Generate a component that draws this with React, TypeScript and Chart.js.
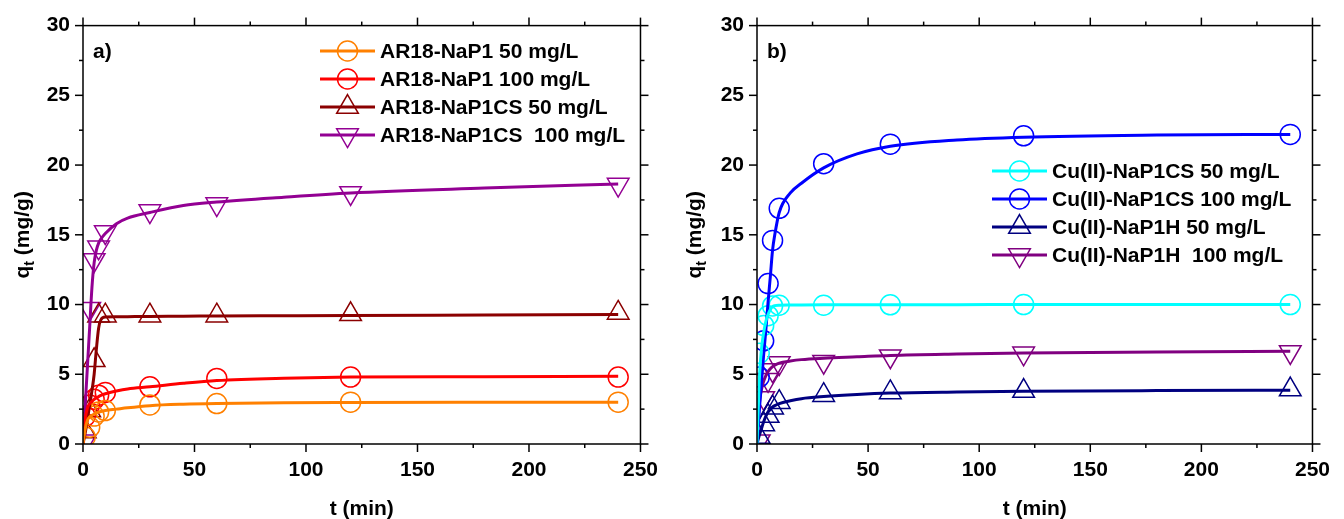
import React, { useEffect, useRef } from "react";
import { Chart, registerables } from "chart.js";

Chart.register(...registerables);

// ---------- data ----------
const sampleTimes = [1, 3, 5, 7, 10, 30, 60, 120, 240];
const fitTimes = [0, 1, 2, 3, 4, 5, 6, 7, 8, 10, 15, 20, 30, 45, 60, 90, 120, 180, 240];

const xTickValues = [0, 50, 100, 150, 200, 250];
const yTickValues = [0, 5, 10, 15, 20, 25, 30];

// panel a) markers
const ar18NaP1_50 = [0.5, 1.2, 2.0, 2.3, 2.4, 2.8, 2.9, 3.0, 3.0];
const ar18NaP1_100 = [2.0, 2.8, 3.2, 3.5, 3.7, 4.1, 4.7, 4.8, 4.8];
const ar18NaP1CS_50 = [0.9, 2.4, 6.0, 9.2, 9.2, 9.2, 9.2, 9.3, 9.4];
const ar18NaP1CS_100 = [0.2, 9.7, 13.2, 14.1, 15.2, 16.7, 17.2, 18.0, 18.6];

// panel a) fitted curves
const ar18NaP1_50Fit = [0, 1.1, 1.7, 1.95, 2.05, 2.15, 2.22, 2.28, 2.33, 2.4, 2.5, 2.6, 2.75, 2.85, 2.9, 2.95, 2.97, 2.99, 3.0];
const ar18NaP1_100Fit = [0, 1.8, 2.6, 2.9, 3.05, 3.2, 3.3, 3.4, 3.48, 3.6, 3.8, 3.95, 4.1, 4.35, 4.55, 4.72, 4.8, 4.83, 4.85];
const ar18NaP1CS_50Fit = [0, 0.8, 1.8, 2.8, 3.8, 5.0, 6.8, 8.3, 8.9, 9.1, 9.12, 9.13, 9.15, 9.16, 9.18, 9.2, 9.22, 9.25, 9.28];
const ar18NaP1CS_100Fit = [0, 2.8, 5.6, 8.4, 11.2, 13.0, 13.9, 14.4, 14.7, 15.1, 15.8, 16.2, 16.6, 17.1, 17.35, 17.7, 18.0, 18.35, 18.65];

// panel b) markers
const cuNaP1CS_50 = [6.5, 8.5, 9.2, 9.9, 9.95, 9.95, 9.98, 10.0, 10.0];
const cuNaP1CS_100 = [4.8, 7.4, 11.5, 14.6, 16.9, 20.1, 21.5, 22.1, 22.2];
const cuNaP1H_50 = [0.5, 1.4, 2.0, 2.6, 3.0, 3.5, 3.7, 3.8, 3.9];
const cuNaP1H_100 = [0.2, 3.3, 4.6, 5.3, 5.8, 5.9, 6.3, 6.5, 6.6];

// panel b) fitted curves
const cuNaP1CS_50Fit = [0, 4.5, 6.8, 8.0, 8.8, 9.3, 9.65, 9.85, 9.92, 9.95, 9.96, 9.97, 9.98, 9.98, 9.99, 9.99, 10.0, 10.0, 10.0];
const cuNaP1CS_100Fit = [0, 2.3, 4.4, 6.4, 8.2, 10.2, 12.0, 13.9, 15.0, 16.6, 18.0, 18.7, 19.8, 20.8, 21.35, 21.8, 22.0, 22.15, 22.2];
const cuNaP1H_50Fit = [0, 0.6, 1.1, 1.6, 2.0, 2.3, 2.5, 2.65, 2.75, 2.9, 3.1, 3.25, 3.4, 3.55, 3.65, 3.73, 3.78, 3.83, 3.86];
const cuNaP1H_100Fit = [0, 2.8, 3.9, 4.5, 4.9, 5.2, 5.4, 5.55, 5.65, 5.8, 5.95, 6.05, 6.15, 6.25, 6.35, 6.45, 6.52, 6.6, 6.65];

const labelsA = ["AR18-NaP1 50 mg/L", "AR18-NaP1 100 mg/L", "AR18-NaP1CS 50 mg/L", "AR18-NaP1CS  100 mg/L"];
const labelsB = ["Cu(II)-NaP1CS 50 mg/L", "Cu(II)-NaP1CS 100 mg/L", "Cu(II)-NaP1H 50 mg/L", "Cu(II)-NaP1H  100 mg/L"];

type Shape = "circle" | "up" | "down";
interface Series {
  label: string;
  color: string;
  shape: Shape;
  marks: number[];
  fit: number[];
}

const seriesA: Series[] = [
  { label: labelsA[0], color: "#FF8000", shape: "circle", marks: ar18NaP1_50, fit: ar18NaP1_50Fit },
  { label: labelsA[1], color: "#FF0000", shape: "circle", marks: ar18NaP1_100, fit: ar18NaP1_100Fit },
  { label: labelsA[2], color: "#8B0000", shape: "up", marks: ar18NaP1CS_50, fit: ar18NaP1CS_50Fit },
  { label: labelsA[3], color: "#930093", shape: "down", marks: ar18NaP1CS_100, fit: ar18NaP1CS_100Fit },
];
const seriesB: Series[] = [
  { label: labelsB[0], color: "#00FFFF", shape: "circle", marks: cuNaP1CS_50, fit: cuNaP1CS_50Fit },
  { label: labelsB[1], color: "#0000FF", shape: "circle", marks: cuNaP1CS_100, fit: cuNaP1CS_100Fit },
  { label: labelsB[2], color: "#000080", shape: "up", marks: cuNaP1H_50, fit: cuNaP1H_50Fit },
  { label: labelsB[3], color: "#800080", shape: "down", marks: cuNaP1H_100, fit: cuNaP1H_100Fit },
];

// ---------- style ----------
const FONT = "'Liberation Sans', Arial, Helvetica, sans-serif";
const FS = 21;
const W = 672;
const H = 519;
const CIRCLE_R = 10;
const TRI_R = 12.5;

function drawMarker(ctx: CanvasRenderingContext2D, shape: Shape, x: number, y: number, color: string) {
  ctx.save();
  ctx.strokeStyle = color;
  ctx.lineWidth = 1.5;
  ctx.beginPath();
  if (shape === "circle") {
    ctx.arc(x, y, CIRCLE_R, 0, Math.PI * 2);
  } else {
    const s = shape === "up" ? -1 : 1;
    for (let i = 0; i < 3; i++) {
      const ang = (i * 2 * Math.PI) / 3;
      const px = x + Math.sin(ang) * TRI_R;
      const py = y + s * Math.cos(ang) * TRI_R;
      if (i === 0) ctx.moveTo(px, py);
      else ctx.lineTo(px, py);
    }
    ctx.closePath();
  }
  ctx.stroke();
  ctx.restore();
}

const decorPlugin = {
  id: "decor",
  afterDraw(chart: any, _args: any, opts: any) {
    const { ctx, chartArea: a, scales } = chart;
    const xs = scales.x;
    const ys = scales.y;
    ctx.save();
    ctx.strokeStyle = "#000";
    ctx.lineWidth = 1.5;
    ctx.strokeRect(a.left, a.top, a.right - a.left, a.bottom - a.top);
    const seg = (x1: number, y1: number, x2: number, y2: number) => {
      ctx.beginPath();
      ctx.moveTo(x1, y1);
      ctx.lineTo(x2, y2);
      ctx.stroke();
    };
    for (let v = xs.min; v <= xs.max + 1e-6; v += 25) {
      const px = xs.getPixelForValue(v);
      const len = v % 50 === 0 ? 8 : 4;
      seg(px, a.bottom, px, a.bottom + len);
      seg(px, a.top, px, a.top - len);
    }
    for (let v = ys.min; v <= ys.max + 1e-6; v += 2.5) {
      const py = ys.getPixelForValue(v);
      const len = v % 5 === 0 ? 8 : 4;
      seg(a.left, py, a.left - len, py);
      seg(a.right, py, a.right + len, py);
    }

    // legend
    const { legendX, legendY, legendStep, series, panel } = opts;
    series.forEach((s: Series, i: number) => {
      const y = legendY + i * legendStep;
      ctx.strokeStyle = s.color;
      ctx.lineWidth = 3;
      seg(legendX, y, legendX + 55, y);
      drawMarker(ctx, s.shape, legendX + 27.5, y, s.color);
      ctx.fillStyle = "#000";
      ctx.font = `bold ${FS}px ${FONT}`;
      ctx.textAlign = "left";
      ctx.textBaseline = "middle";
      ctx.fillText(s.label, legendX + 60, y + 1);
    });

    // panel label
    ctx.fillStyle = "#000";
    ctx.font = `bold ${FS}px ${FONT}`;
    ctx.textAlign = "left";
    ctx.textBaseline = "middle";
    ctx.fillText(panel, a.left + 10, 52);

    // x title
    ctx.textAlign = "center";
    ctx.fillText("t (min)", (a.left + a.right) / 2, 509);

    // y title with subscript
    const cy = (a.top + a.bottom) / 2;
    ctx.translate(22, cy);
    ctx.rotate(-Math.PI / 2);
    const big = `bold ${FS}px ${FONT}`;
    const small = `bold ${Math.round(FS * 0.65)}px ${FONT}`;
    ctx.font = big;
    const wq = ctx.measureText("q").width;
    const wr = ctx.measureText(" (mg/g)").width;
    ctx.font = small;
    const wt = ctx.measureText("t").width;
    const total = wq + wt + wr;
    let x0 = -total / 2;
    ctx.textAlign = "left";
    ctx.textBaseline = "alphabetic";
    ctx.font = big;
    ctx.fillText("q", x0, 7);
    x0 += wq;
    ctx.font = small;
    ctx.fillText("t", x0, 12);
    x0 += wt;
    ctx.font = big;
    ctx.fillText(" (mg/g)", x0, 7);
    ctx.restore();
  },
};

interface PanelProps {
  series: Series[];
  panel: string;
  yAxisWidth: number;
  padRight: number;
  legendX: number;
  legendY: number;
}

function Panel({ series, panel, yAxisWidth, padRight, legendX, legendY }: PanelProps) {
  const ref = useRef<HTMLCanvasElement>(null);
  useEffect(() => {
    if (!ref.current) return;
    const datasets: any[] = [];
    series.forEach((s) => {
      datasets.push({
        label: s.label + " fit",
        data: fitTimes.map((t, i) => ({ x: t, y: s.fit[i] })),
        borderColor: s.color,
        borderWidth: 3,
        pointRadius: 0,
        cubicInterpolationMode: "monotone",
        fill: false,
      });
    });
    series.forEach((s) => {
      datasets.push({
        label: s.label,
        data: sampleTimes.map((t, i) => ({ x: t, y: s.marks[i] })),
        showLine: false,
        borderColor: s.color,
        backgroundColor: "rgba(0,0,0,0)",
        pointBackgroundColor: "rgba(0,0,0,0)",
        pointBorderColor: s.color,
        pointBorderWidth: 1.5,
        pointStyle: s.shape === "circle" ? "circle" : "triangle",
        pointRotation: s.shape === "down" ? 180 : 0,
        pointRadius: s.shape === "circle" ? CIRCLE_R : TRI_R,
      });
    });
    const tickFont = { family: FONT, size: FS, weight: "bold" as const };
    const chart = new Chart(ref.current, {
      type: "line",
      data: { datasets },
      plugins: [decorPlugin],
      options: {
        animation: false,
        responsive: false,
        layout: { padding: { left: 0, right: padRight, top: 24, bottom: 0 } },
        plugins: {
          legend: { display: false },
          tooltip: { enabled: false },
          decor: { legendX, legendY, legendStep: 28, series, panel },
        } as any,
        scales: {
          x: {
            type: "linear",
            min: 0,
            max: 250,
            afterBuildTicks: (s: any) => {
              s.ticks = xTickValues.map((v) => ({ value: v }));
            },
            afterFit: (s: any) => {
              s.height = 75;
            },
            grid: { display: false, drawTicks: false },
            border: { display: false },
            ticks: { font: tickFont, color: "#000", padding: 14, maxRotation: 0 },
          },
          y: {
            type: "linear",
            min: 0,
            max: 30,
            afterBuildTicks: (s: any) => {
              s.ticks = yTickValues.map((v) => ({ value: v }));
            },
            afterFit: (s: any) => {
              s.width = yAxisWidth;
            },
            grid: { display: false, drawTicks: false },
            border: { display: false },
            ticks: { font: tickFont, color: "#000", padding: 13 },
          },
        },
      },
    });
    return () => chart.destroy();
  }, []);
  return <canvas ref={ref} width={W} height={H} style={{ width: W, height: H, display: "block" }} />;
}

export default function App() {
  return (
    <div style={{ position: "absolute", left: 0, top: 0, width: 1344, height: 519, display: "flex", background: "#fff" }}>
      <Panel series={seriesA} panel="a)" yAxisWidth={83} padRight={20} legendX={320} legendY={51} />
      <Panel series={seriesB} panel="b)" yAxisWidth={85} padRight={19} legendX={320} legendY={171} />
    </div>
  );
}
